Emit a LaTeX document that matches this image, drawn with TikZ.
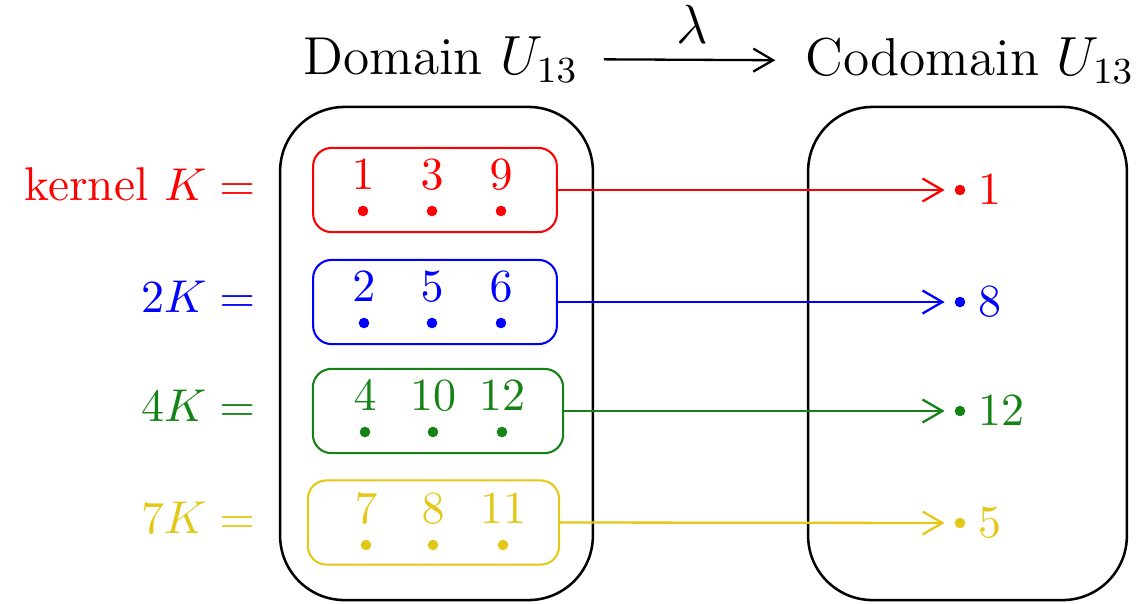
\documentclass[tikz,border=0pt]{standalone}
\usetikzlibrary{arrows.meta}
\definecolor{grp green}{RGB}{20,130,20}
\definecolor{grp yellow}{RGB}{228,200,25}
\tikzset{
  px/.style={x=0.21739pt,y=-0.21739pt},
  titlefont/.style={font=\fontsize{11.6}{14}\selectfont},
  title/.style={anchor=base,titlefont},
  setbox/.style={draw,line width=0.55pt,rounded corners=14pt,minimum width=#1,minimum height=107.2pt,inner sep=0pt},
  grpbox/.style={draw,line width=0.45pt,rounded corners=4pt,minimum height=18.3pt,minimum width=#1,inner sep=0pt},
  pt/.style={circle,fill,inner sep=0pt,minimum size=2.3pt},
  side/.style={anchor=base east,inner sep=0pt,font=\fontsize{10.3}{12}\selectfont},
  tip/.style={-{Straight Barb[length=4.3pt,width=5pt]},line width=0.5pt},
  maps/.style={tip,shorten >=2pt},
  dig/.style={font=\fontsize{10}{12}\selectfont,label distance=-0.2pt},
  img/.style={font=\fontsize{10}{12}\selectfont,inner sep=2.4pt},
}
\begin{document}
\begin{tikzpicture}[px]
\useasboundingbox (0,0) rectangle (1138,603);

% titles and the map between them
\node[title] (dom) at (441,74) {Domain $U_{13}$};
\node[title] (cod) at (970,75) {Codomain $U_{13}$};
\draw[tip,shorten <=2pt,shorten >=3pt]
  (dom.east) -- node[above,titlefont] {$\lambda$} (cod.west);

% the two sets
\node[setbox=68pt] (D) at (436.5,353.5) {};
\node[setbox=69.3pt] (C) at (967.5,353.5) {};

% cosets in the domain
\node[grpbox=53pt,red] (g1) at (435,190) {};
\node[grpbox=53pt,blue] (g2) at (435,302) {};
\node[grpbox=54.4pt,grp green] (g3) at (438,411) {};
\node[grpbox=54.6pt,grp yellow] (g4) at (433.5,522.5) {};

% elements
\foreach \x/\n [count=\i] in {363/1,432/3,501/9}
  \node[pt,red,label={[dig,red]above:$\n$}] (r\i) at (\x,211) {};
\foreach \x/\n [count=\i] in {364/2,432/5,501/6}
  \node[pt,blue,label={[dig,blue]above:$\n$}] (b\i) at (\x,323) {};
\foreach \x/\n [count=\i] in {365/4,433/10,502/12}
  \node[pt,grp green,label={[dig,grp green]above:$\n$}] (e\i) at (\x,432) {};
\foreach \x/\n [count=\i] in {366/7,433/8,503/11}
  \node[pt,grp yellow,label={[dig,grp yellow]above:$\n$}] (y\i) at (\x,545) {};

% coset names
\node[side,red] (l1) at (256,200) {kernel $K =$};
\node[side,blue] (l2) at (256,312) {$2K =$};
\node[side,grp green] (l3) at (256,421) {$4K =$};
\node[side,grp yellow] (l4) at (256,533) {$7K =$};

% images in the codomain
\node[pt,red,label={[img,red]right:$1$}] (c1) at (960,190) {};
\node[pt,blue,label={[img,blue]right:$8$}] (c2) at (960,302) {};
\node[pt,grp green,label={[img,grp green]right:$12$}] (c3) at (960,411) {};
\node[pt,grp yellow,label={[img,grp yellow]right:$5$}] (c4) at (960,523) {};

\draw[maps,red] (g1.east) -- (c1);
\draw[maps,blue] (g2.east) -- (c2);
\draw[maps,grp green] (g3.east) -- (c3);
\draw[maps,grp yellow] (g4.east) -- (c4);
\end{tikzpicture}
\end{document}
